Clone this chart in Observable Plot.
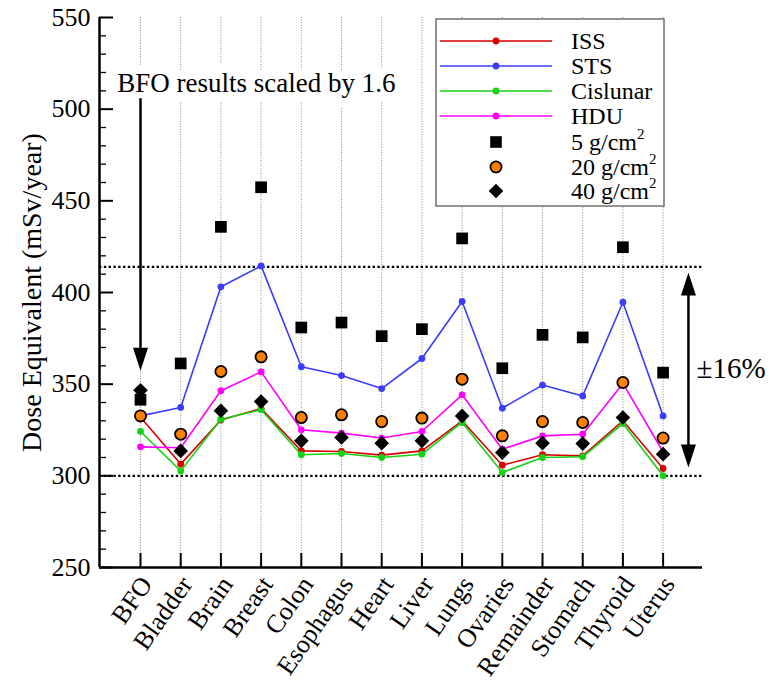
<!DOCTYPE html>
<html><head><meta charset="utf-8">
<script src="https://cdn.jsdelivr.net/npm/d3@7"></script>
<script src="https://cdn.jsdelivr.net/npm/@observablehq/plot@0.6"></script>
<style>
body{margin:0;background:#fff;}
#chart{position:relative;width:773px;height:684px;}
</style>
</head><body><div id="chart"></div>
<script>
// ---- data ----
const organs = ["BFO","Bladder","Brain","Breast","Colon","Esophagus","Heart","Liver","Lungs","Ovaries","Remainder","Stomach","Thyroid","Uterus"];
const seriesNames = ["ISS","STS","Cislunar","HDU"];
const seriesColors = ["#d80000","#3c3cff","#14d214","#ff00ff"];
const iss      = [332.0, 306.4, 330.4, 336.7, 313.6, 313.3, 311.3, 313.6, 330.0, 305.8, 311.5, 310.9, 330.0, 304.0];
const sts      = [332.7, 337.3, 403.1, 414.5, 359.5, 354.7, 347.6, 364.0, 395.1, 336.9, 349.5, 343.6, 394.7, 332.7];
const cislunar = [324.2, 302.7, 330.9, 336.0, 311.5, 312.2, 310.0, 311.8, 329.1, 301.8, 310.0, 310.4, 328.5, 300.0];
const hdu      = [315.8, 315.3, 346.4, 356.7, 325.1, 323.3, 320.6, 324.2, 344.2, 314.5, 321.8, 322.7, 350.4, 313.0];
const shield5  = [341.5, 361.3, 435.8, 457.4, 380.9, 383.6, 376.2, 380.0, 429.5, 358.7, 376.9, 375.5, 424.7, 356.3];
const shield20 = [332.7, 322.7, 356.9, 364.9, 331.8, 333.3, 329.6, 331.5, 352.7, 321.8, 329.6, 329.1, 350.9, 320.6];
const shield40 = [346.7, 313.6, 335.5, 340.5, 319.1, 320.9, 317.8, 319.1, 332.7, 312.7, 317.8, 317.6, 331.8, 311.8];
const shieldNames = ["5 g/cm", "20 g/cm", "40 g/cm"];
const yDomain = [250, 550];
const xDomain = [-1.02, 13.98];
const yMajor = [250, 300, 350, 400, 450, 500, 550];
const yMinor = d3.range(250, 551, 10).filter(v => v % 50 !== 0);
const bandLines = [300, 414];
const bandLabel = "±16%";
const yTitle = "Dose Equivalent (mSv/year)";
const noteText = "BFO results scaled by 1.6";
const notePos = {x: -0.58, y: 514};
const noteArrow = {x: 0, yStart: 505.7, yBase: 369.5, yTip: 357.3};
const rangeArrow = {x: 13.63, top: 410.9, topBase: 399.0, bottom: 304.5, bottomBase: 316.4};
const bandLabelPos = {x: 13.83, y: 358.4};

// ---- build ----
const idx = organs.map((_, i) => i);
const seriesVals = [iss, sts, cislunar, hdu];
const W = 773, H = 684, mL = 99, mR = 71, mT = 17, mB = 117;
const plotW = W - mL - mR, plotH = H - mT - mB;
const font = "'Liberation Serif', 'Times New Roman', serif";

const headDown = {draw(ctx){ ctx.moveTo(0,0); ctx.lineTo(-7.5,-23); ctx.lineTo(7.5,-23); ctx.closePath(); }};
const headUp   = {draw(ctx){ ctx.moveTo(0,0); ctx.lineTo(-7.5,23); ctx.lineTo(7.5,23); ctx.closePath(); }};

const seriesMarks = [];
seriesNames.forEach((name, k) => {
  const rows = seriesVals[k].map((v, i) => ({i, v, series: name}));
  seriesMarks.push(Plot.line(rows, {x: "i", y: "v", stroke: "series", strokeWidth: 1.6}));
  seriesMarks.push(Plot.dot(rows, {x: "i", y: "v", fill: "series", r: 3.4, stroke: "none"}));
});
const rows5 = shield5.map((v, i) => ({i, v}));
const rows20 = shield20.map((v, i) => ({i, v}));
const rows40 = shield40.map((v, i) => ({i, v}));

const chart = Plot.plot({
  width: W, height: H,
  marginLeft: mL, marginRight: mR, marginTop: mT, marginBottom: mB,
  style: {fontFamily: font, background: "white", color: "black", overflow: "visible"},
  x: {type: "linear", domain: xDomain, axis: null},
  y: {domain: yDomain},
  color: {domain: seriesNames, range: seriesColors},
  marks: [
    Plot.ruleX(idx, {x: d => d, stroke: "#8c8c8c", strokeWidth: 1, strokeDasharray: "1,1.6"}),
    Plot.text([noteText], {x: notePos.x, y: notePos.y, text: d => d, textAnchor: "start", lineAnchor: "middle",
      fontSize: 27, fill: "black", stroke: "white", strokeWidth: 18, paintOrder: "stroke"}),
    Plot.ruleY(bandLines, {y: d => d, stroke: "black", strokeWidth: 2.2, strokeDasharray: "2.4,2.4"}),
    // BFO arrow
    Plot.ruleX([noteArrow], {x: "x", y1: "yStart", y2: "yBase", stroke: "black", strokeWidth: 2.5}),
    Plot.dot([noteArrow], {x: "x", y: "yTip", symbol: headDown, r: 5, fill: "black", stroke: "none"}),
    // range arrow
    Plot.ruleX([rangeArrow], {x: "x", y1: "topBase", y2: "bottomBase", stroke: "black", strokeWidth: 2.5}),
    Plot.dot([rangeArrow], {x: "x", y: "top", symbol: headUp, r: 5, fill: "black", stroke: "none"}),
    Plot.dot([rangeArrow], {x: "x", y: "bottom", symbol: headDown, r: 5, fill: "black", stroke: "none"}),
    Plot.text([bandLabel], {x: bandLabelPos.x, y: bandLabelPos.y, text: d => d, textAnchor: "start", lineAnchor: "middle", fontSize: 29, fill: "black"}),
    ...seriesMarks,
    Plot.dot(rows5, {x: "i", y: "v", symbol: "square", r: 6.6, fill: "black", stroke: "none"}),
    Plot.dot(rows20, {x: "i", y: "v", r: 5.6, fill: "#ff8000", stroke: "black", strokeWidth: 1.8}),
    Plot.dot(rows40, {x: "i", y: "v", symbol: "diamond2", r: 6.6, fill: "black", stroke: "none"}),
    // axes
    Plot.ruleX([xDomain[0]], {x: d => d, stroke: "black", strokeWidth: 2.5}),
    Plot.ruleY([yDomain[0]], {y: d => d, stroke: "black", strokeWidth: 2.5}),
    Plot.tickY(yMajor, {y: d => d, stroke: "black", strokeWidth: 2, insetRight: plotW - 14}),
    Plot.tickY(yMinor, {y: d => d, stroke: "black", strokeWidth: 1.3, insetRight: plotW - 7}),
    Plot.tickX(idx, {x: d => d, stroke: "black", strokeWidth: 2, insetTop: plotH - 14}),
    Plot.axisY(yMajor, {tickSize: 0, tickPadding: 9, fontSize: 26, label: null, tickFormat: d => String(d)}),
    Plot.text(idx, {x: d => d, text: d => organs[d], frameAnchor: "bottom", rotate: -55, textAnchor: "end",
      lineAnchor: "middle", dx: 6, dy: 12, fontSize: 26, fill: "black"}),
    Plot.text([yTitle], {frameAnchor: "left", text: d => d, rotate: -90, dx: -67, fontSize: 28, textAnchor: "middle", lineAnchor: "middle", fill: "black"})
  ]
});
document.getElementById("chart").appendChild(chart);

// ---- legend (inside the plot area) ----
const svg = d3.select(chart);
const lg = svg.append("g").attr("font-family", font).attr("font-size", 24).attr("text-anchor", "start");
lg.append("rect").attr("x", 436).attr("y", 19).attr("width", 228).attr("height", 187)
  .attr("fill", "white").attr("stroke", "#707070").attr("stroke-width", 1.5);
const rowY = [41, 66, 91, 116, 142, 167, 191];
seriesNames.forEach((name, k) => {
  const y = rowY[k];
  lg.append("line").attr("x1", 440).attr("x2", 552).attr("y1", y).attr("y2", y).attr("stroke", seriesColors[k]).attr("stroke-width", 1.6);
  lg.append("circle").attr("cx", 496).attr("cy", y).attr("r", 3.4).attr("fill", seriesColors[k]);
  lg.append("text").attr("x", 571).attr("y", y).attr("dy", "0.35em").attr("text-anchor", "start").text(name);
});
const symY = rowY.slice(4);
lg.append("rect").attr("x", 496 - 5.8).attr("y", symY[0] - 5.8).attr("width", 11.6).attr("height", 11.6).attr("fill", "black");
lg.append("circle").attr("cx", 496).attr("cy", symY[1]).attr("r", 5.6).attr("fill", "#ff8000").attr("stroke", "black").attr("stroke-width", 1.8);
lg.append("path").attr("d", d3.symbol(d3.symbolDiamond2, Math.PI * 6.6 * 6.6)()).attr("transform", `translate(496,${symY[2]})`).attr("fill", "black");
shieldNames.forEach((name, k) => {
  const t = lg.append("text").attr("x", 571).attr("y", symY[k]).attr("dy", "0.35em").attr("text-anchor", "start");
  t.append("tspan").text(name);
  t.append("tspan").attr("font-size", 15).attr("dy", -11).text("2");
});
</script>
</body></html>
